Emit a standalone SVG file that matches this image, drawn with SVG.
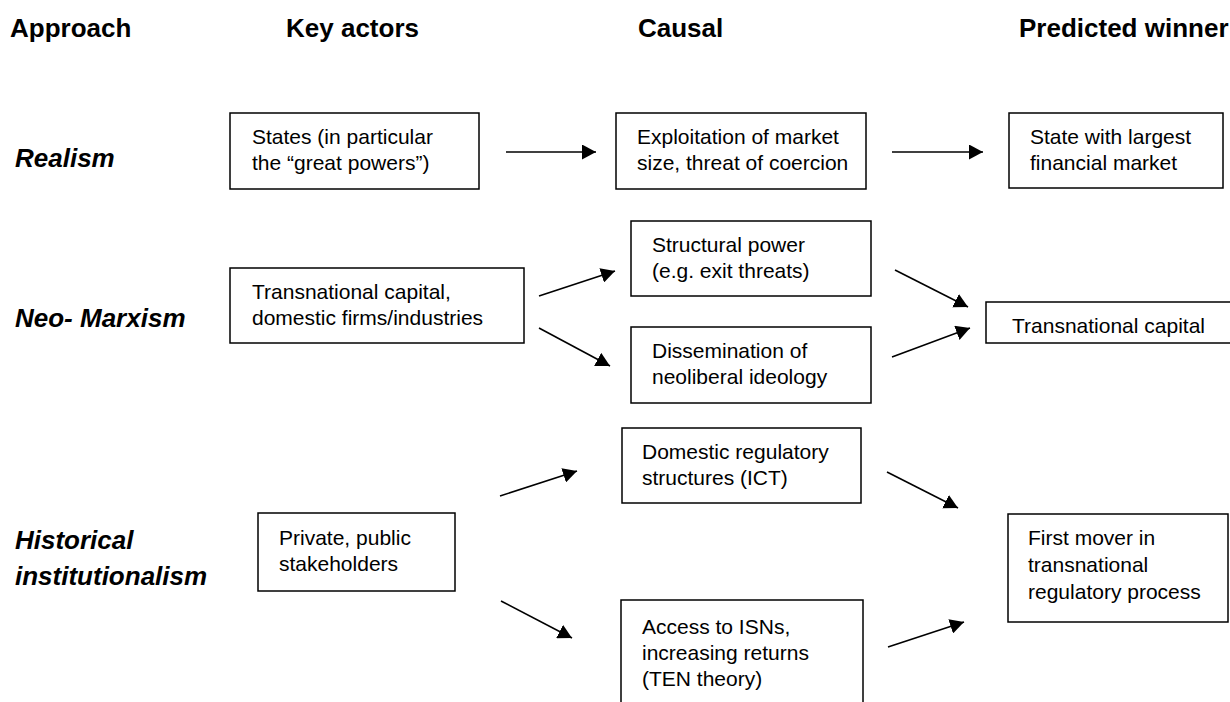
<svg xmlns="http://www.w3.org/2000/svg" width="1230" height="702" viewBox="0 0 1230 702">
<style>
.hdr{font-family:"Liberation Sans",Arial,sans-serif;font-size:26px;font-weight:bold;fill:#000}
.row{font-family:"Liberation Sans",Arial,sans-serif;font-size:26px;font-weight:bold;font-style:italic;fill:#000}
.box rect{fill:#fff;stroke:#000;stroke-width:1.5}
.box text{font-family:"Liberation Sans",Arial,sans-serif;font-size:21px;fill:#000}
#connectors line{stroke:#000;stroke-width:1.6;marker-end:url(#ah)}
</style>
<defs>
<marker id="ah" markerWidth="14" markerHeight="15" refX="14" refY="7.5" orient="auto" markerUnits="userSpaceOnUse"><path d="M0,0 L14,7.5 L0,15 Z" fill="#000"/></marker>
<clipPath id="tcclip"><rect x="986" y="302" width="260" height="37"/></clipPath>
</defs>
<rect width="1230" height="702" fill="#fff"/>
<g id="headers">
<text class="hdr" x="10" y="37">Approach</text>
<text class="hdr" x="286" y="37">Key actors</text>
<text class="hdr" x="638" y="37">Causal</text>
<text class="hdr" x="1019" y="37">Predicted winner</text>
</g>
<g id="rows">
<text class="row" x="15" y="167">Realism</text>
<text class="row" x="15" y="327">Neo- Marxism</text>
<text class="row" x="15" y="549">Historical</text>
<text class="row" x="15" y="585">institutionalism</text>
</g>
<g id="n-states" class="box"><rect x="230" y="113" width="249" height="76"/><text x="252" y="144">States (in particular</text><text x="252" y="170">the “great powers”)</text></g>
<g id="n-exploit" class="box"><rect x="616" y="113" width="250" height="76"/><text x="637" y="144">Exploitation of market</text><text x="637" y="170">size, threat of coercion</text></g>
<g id="n-statewin" class="box"><rect x="1009" y="113" width="214" height="75"/><text x="1030" y="144">State with largest</text><text x="1030" y="170">financial market</text></g>
<g id="n-transcap" class="box"><rect x="230" y="268" width="294" height="75"/><text x="252" y="299">Transnational capital,</text><text x="252" y="325">domestic firms/industries</text></g>
<g id="n-structural" class="box"><rect x="631" y="221" width="240" height="75"/><text x="652" y="252">Structural power</text><text x="652" y="278">(e.g. exit threats)</text></g>
<g id="n-dissem" class="box"><rect x="631" y="327" width="240" height="76"/><text x="652" y="358">Dissemination of</text><text x="652" y="384">neoliberal ideology</text></g>
<g id="n-transwin" class="box"><rect x="986" y="302" width="260" height="41"/><text x="1012" y="333" clip-path="url(#tcclip)">Transnational capital</text></g>
<g id="n-domestic" class="box"><rect x="622" y="428" width="239" height="75"/><text x="642" y="459">Domestic regulatory</text><text x="642" y="485">structures (ICT)</text></g>
<g id="n-private" class="box"><rect x="258" y="513" width="197" height="78"/><text x="279" y="545">Private, public</text><text x="279" y="571">stakeholders</text></g>
<g id="n-access" class="box"><rect x="621" y="600" width="242" height="130"/><text x="642" y="634">Access to ISNs,</text><text x="642" y="660">increasing returns</text><text x="642" y="686">(TEN theory)</text></g>
<g id="n-firstmover" class="box"><rect x="1008" y="514" width="220" height="108"/><text x="1028" y="545">First mover in</text><text x="1028" y="572">transnational</text><text x="1028" y="599">regulatory process</text></g>
<g id="connectors">
<line x1="506" y1="152" x2="596" y2="152"/>
<line x1="892" y1="152" x2="983" y2="152"/>
<line x1="539" y1="296" x2="615" y2="271"/>
<line x1="539" y1="328" x2="610" y2="366"/>
<line x1="895" y1="270" x2="968" y2="307"/>
<line x1="892" y1="357" x2="970" y2="328"/>
<line x1="500" y1="496" x2="577" y2="471"/>
<line x1="501" y1="601" x2="572" y2="638"/>
<line x1="887" y1="472" x2="958" y2="508"/>
<line x1="888" y1="647" x2="964" y2="622"/>
</g>
</svg>
